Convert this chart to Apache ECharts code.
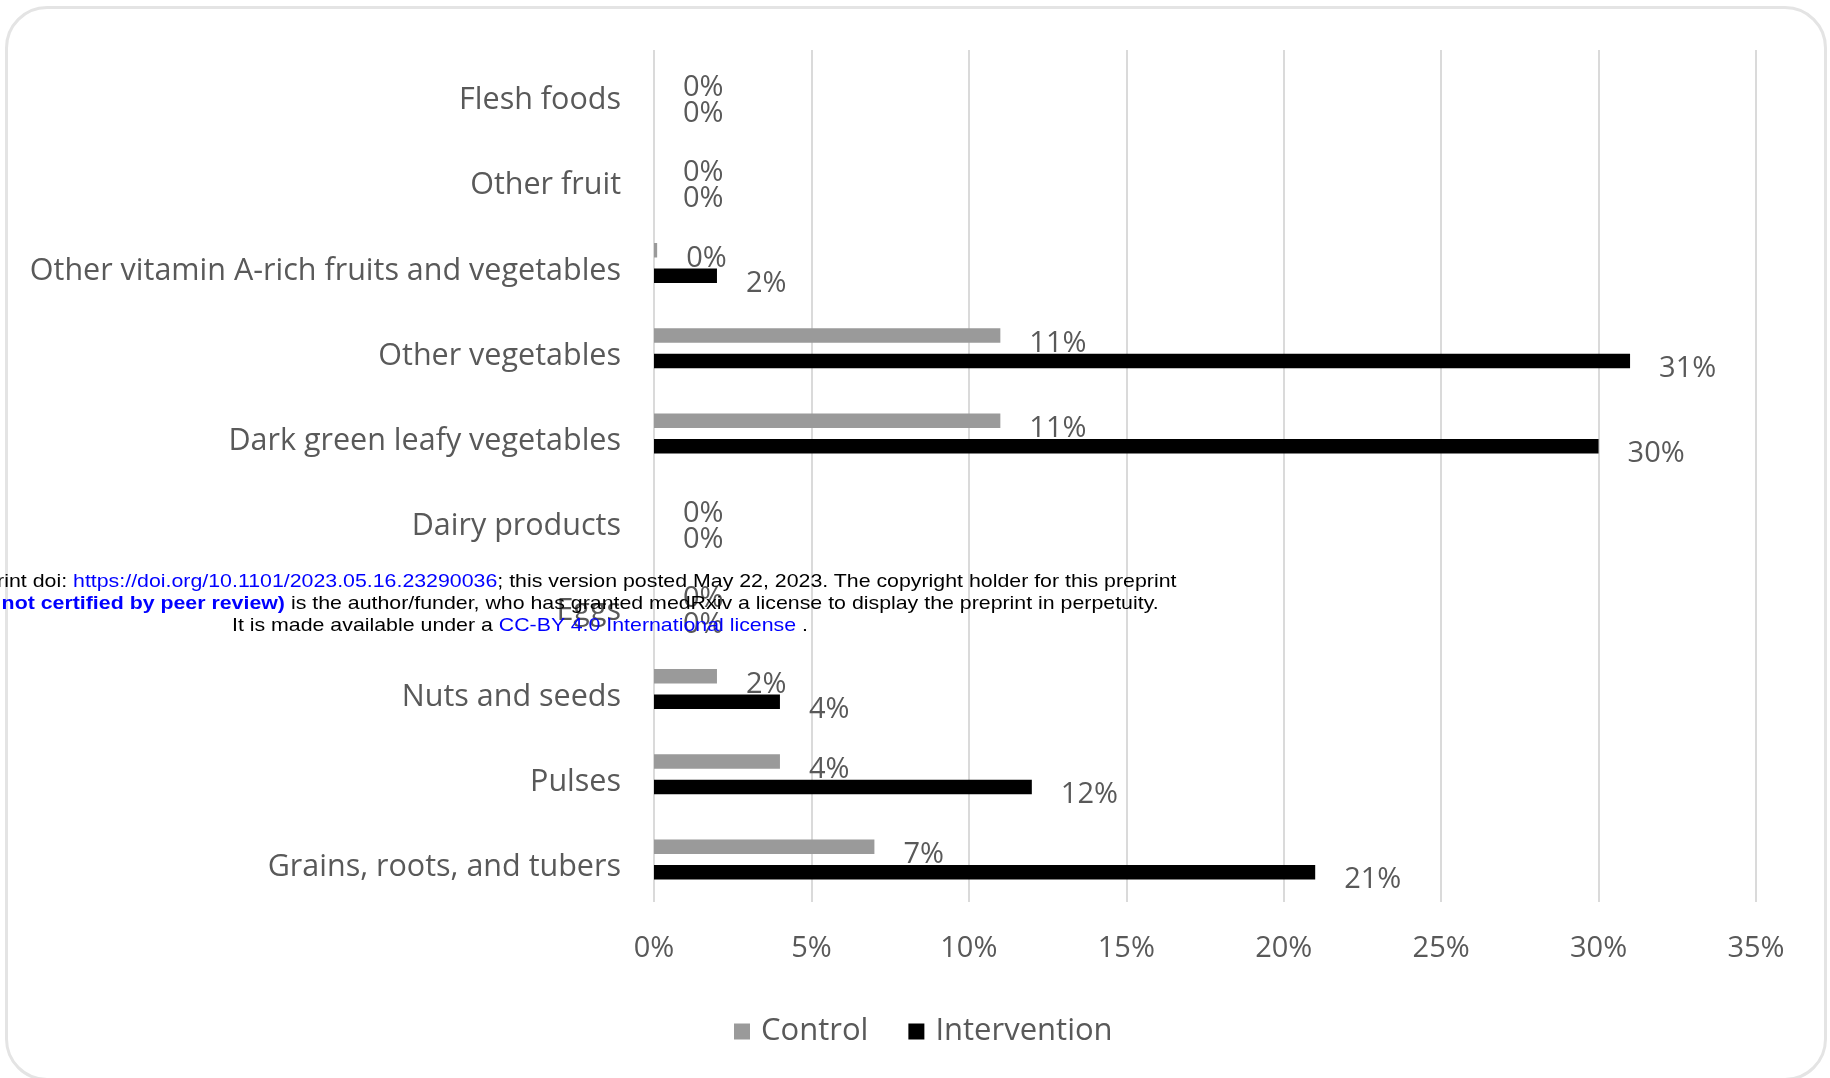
<!DOCTYPE html>
<html>
<head>
<meta charset="utf-8">
<script src="https://cdn.jsdelivr.net/npm/echarts@6/dist/echarts.min.js"></script>
<style>
  html, body { margin: 0; padding: 0; background: #fff; }
  #wrap { position: relative; width: 1830px; height: 1078px; overflow: hidden; background: #fff; }
  #card { position: absolute; left: 5px; top: 6px; width: 1822px; height: 1075px; border: 3px solid #e4e4e4; border-radius: 42px; box-sizing: border-box; }
  #chart { position: absolute; left: 0; top: 0; width: 1830px; height: 1078px; }
  .wm { position: absolute; white-space: nowrap; font-family: "Liberation Sans", Arial, sans-serif; font-size: 19px; line-height: 22px; color: #000; transform-origin: right center; }
  .wm a, .wm .lk { color: #0000ff; text-decoration: none; }
  .wm b { color: #0000ff; }
</style>
</head>
<body>
<div id="wrap">
  <div id="card"></div>
  <div id="chart"></div>
  <div class="wm" id="wm1" style="right:654px; top:570px;">medRxiv preprint doi: <span class="lk">https://doi.org/10.1101/2023.05.16.23290036</span>; this version posted May 22, 2023. The copyright holder for this preprint</div>
  <div class="wm" id="wm2" style="right:671px; top:592px;">(which was <b>not certified by peer review)</b> is the author/funder, who has granted medRxiv a license to display the preprint in perpetuity.</div>
  <div class="wm" id="wm3" style="right:1022px; top:614px;">It is made available under a <span class="lk">CC-BY 4.0 International license</span> .</div>
</div>
<script>
const categories = [
  'Flesh foods',
  'Other fruit',
  'Other vitamin A-rich fruits and vegetables',
  'Other vegetables',
  'Dark green leafy vegetables',
  'Dairy products',
  'Eggs',
  'Nuts and seeds',
  'Pulses',
  'Grains, roots, and tubers'
];
const controlValues = [0, 0, 0.1, 11, 11, 0, 0, 2, 4, 7];
const interventionValues = [0, 0, 2, 31, 30, 0, 0, 4, 12, 21];
const xTicks = [0, 5, 10, 15, 20, 25, 30, 35];

// scale the watermark lines horizontally so line 3 spans 232..808 px
(function () {
  const w3 = document.getElementById('wm3');
  const natural = w3.getBoundingClientRect().width;
  const k = 576 / natural;
  ['wm1', 'wm2', 'wm3'].forEach(id => {
    document.getElementById(id).style.transform = 'scaleX(' + k + ')';
  });
})();

const TXT = '#595959';
const FONT = '"Open Sans", "Noto Sans", sans-serif';
const chart = echarts.init(document.getElementById('chart'), null, { renderer: 'canvas' });
const labelCfg = {
  show: true,
  position: 'right',
  distance: 29,
  offset: [0, 8],
  color: TXT,
  fontFamily: FONT,
  fontSize: 29,
  formatter: p => Math.round(p.value) + '%'
};
chart.setOption({
  animation: false,
  backgroundColor: 'transparent',
  grid: { left: 654, right: 74, top: 50, bottom: 176, containLabel: false },
  legend: {
    data: ['Control', 'Intervention'],
    left: 729,
    top: 1011,
    icon: 'rect',
    itemWidth: 16,
    itemHeight: 16,
    itemGap: 40,
    textStyle: { color: TXT, fontFamily: FONT, fontSize: 31, padding: [0, 0, 0, 6] }
  },
  xAxis: {
    type: 'value',
    min: xTicks[0],
    max: xTicks[xTicks.length - 1],
    interval: 5,
    axisLine: { show: false },
    axisTick: { show: false },
    splitLine: { show: true, lineStyle: { color: '#dadada', width: 2 } },
    axisLabel: { color: TXT, fontFamily: FONT, fontSize: 29, margin: 32, formatter: v => v + '%' }
  },
  yAxis: {
    type: 'category',
    data: categories,
    inverse: true,
    axisLine: { show: false },
    axisTick: { show: false },
    axisLabel: {
      margin: 33,
      formatter: v => '{c|' + v + '}',
      rich: { c: { color: TXT, fontFamily: FONT, fontSize: 30.5, padding: [16, 0, 0, 0] } }
    }
  },
  series: [
    {
      name: 'Control', type: 'bar', data: controlValues,
      barWidth: 14.5, barGap: '76%',
      itemStyle: { color: '#9a9a9a' },
      label: labelCfg
    },
    {
      name: 'Intervention', type: 'bar', data: interventionValues,
      barWidth: 14.5, barGap: '76%',
      itemStyle: { color: '#000000' },
      label: labelCfg
    }
  ]
});
</script>
</body>
</html>
